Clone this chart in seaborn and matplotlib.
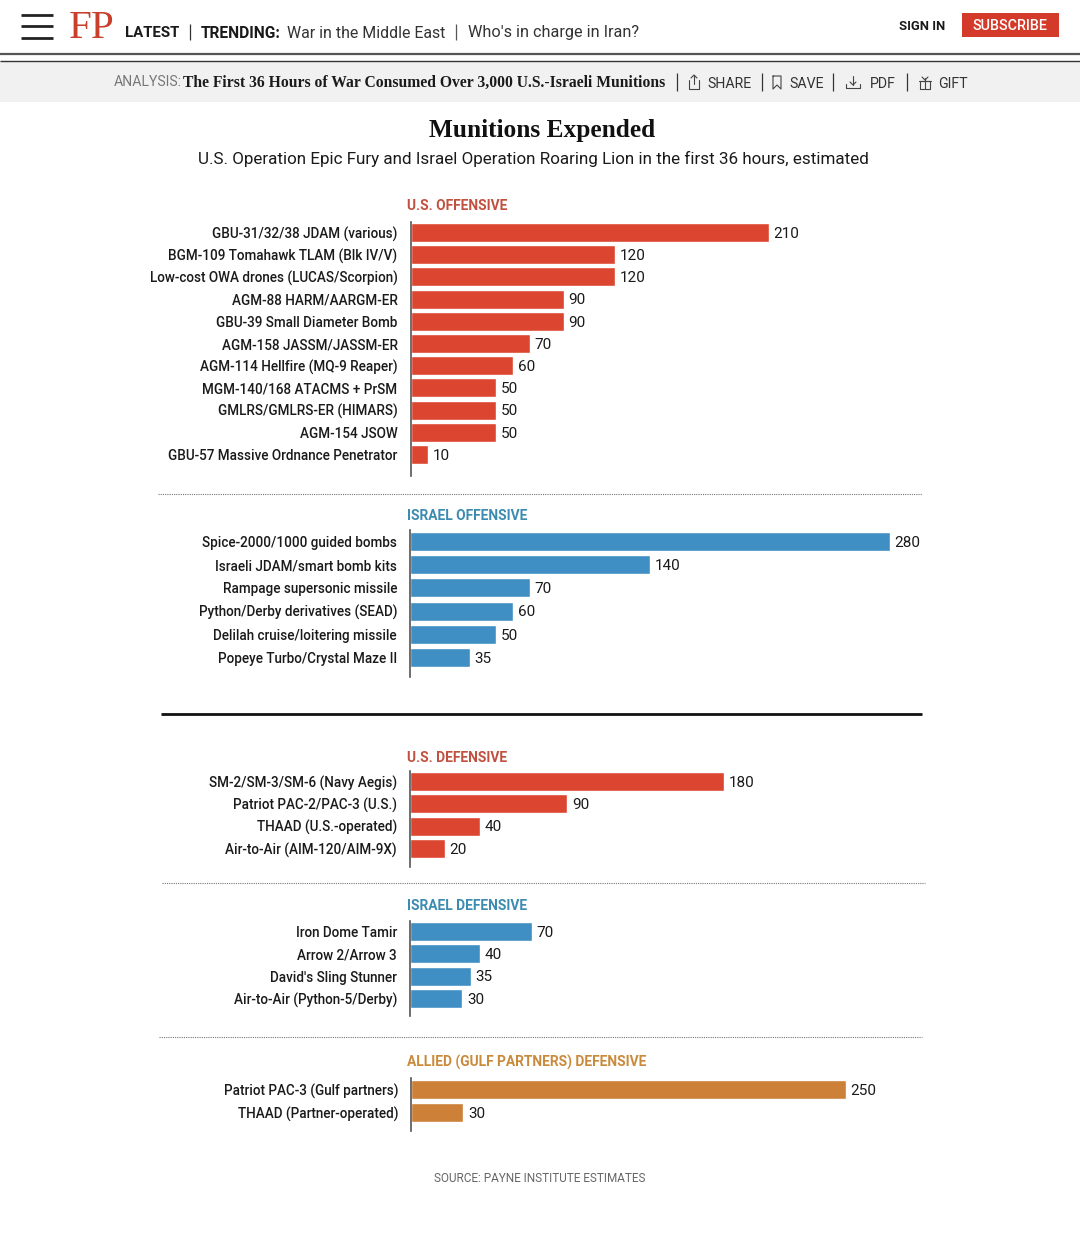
import matplotlib
matplotlib.use("Agg")
import matplotlib.pyplot as plt
from matplotlib.patches import Rectangle
import pandas as pd
import seaborn as sns

W, H = 1080, 1257
RED = "#dc4630"
BLUE = "#408fc4"
ORANGE = "#cc8038"
FONT = "Roboto"

us_off_names = ["GBU-31/32/38 JDAM (various)", "BGM-109 Tomahawk TLAM (Blk IV/V)",
                "Low-cost OWA drones (LUCAS/Scorpion)", "AGM-88 HARM/AARGM-ER",
                "GBU-39 Small Diameter Bomb", "AGM-158 JASSM/JASSM-ER",
                "AGM-114 Hellfire (MQ-9 Reaper)", "MGM-140/168 ATACMS + PrSM",
                "GMLRS/GMLRS-ER (HIMARS)", "AGM-154 JSOW", "GBU-57 Massive Ordnance Penetrator"]
us_off_vals = [210, 120, 120, 90, 90, 70, 60, 50, 50, 50, 10]

il_off_names = ["Spice-2000/1000 guided bombs", "Israeli JDAM/smart bomb kits",
                "Rampage supersonic missile", "Python/Derby derivatives (SEAD)",
                "Delilah cruise/loitering missile", "Popeye Turbo/Crystal Maze II"]
il_off_vals = [280, 140, 70, 60, 50, 35]

us_def_names = ["SM-2/SM-3/SM-6 (Navy Aegis)", "Patriot PAC-2/PAC-3 (U.S.)",
                "THAAD (U.S.-operated)", "Air-to-Air (AIM-120/AIM-9X)"]
us_def_vals = [180, 90, 40, 20]

il_def_names = ["Iron Dome Tamir", "Arrow 2/Arrow 3", "David's Sling Stunner",
                "Air-to-Air (Python-5/Derby)"]
il_def_vals = [70, 40, 35, 30]

gulf_names = ["Patriot PAC-3 (Gulf partners)", "THAAD (Partner-operated)"]
gulf_vals = [250, 30]

sns.set_theme(style="white")
plt.rcParams["font.family"] = [FONT, "DejaVu Sans"]
fig = plt.figure(figsize=(W / 100, H / 100), dpi=100, facecolor="white")

# overlay in pixel coords for the page furniture
page = fig.add_axes([0, 0, 1, 1], zorder=0)
page.set_xlim(0, W)
page.set_ylim(H, 0)
page.axis("off")


def txt(x, y, s, px, **kw):
    kw.setdefault("va", "center")
    kw.setdefault("color", "#1a1a1a")
    page.text(x, y, s, fontsize=px * 0.72, **kw)


def hline(y, x0, x1, **kw):
    page.plot([x0, x1], [y, y], solid_capstyle="butt", **kw)


def vline(x, y0=73, y1=91, color="#333333"):
    page.plot([x, x], [y0, y1], color=color, lw=0.9, solid_capstyle="butt")


def icon(xs, ys):
    page.plot(xs, ys, color="#444444", lw=0.8)


def panel(title, title_color, names, vals, color, x0, scale, first, pitch, top, bottom, title_y):
    # one block of bars, placed by pixel but drawn on a shared 0-300 scale
    ax = fig.add_axes([x0 / W, 1 - bottom / H, 300 * scale / W, (bottom - top) / H], zorder=2)
    ax.patch.set_alpha(0)
    df = pd.DataFrame({"name": names, "val": vals})
    sns.barplot(data=df, x="val", y="name", color=color, saturation=1,
                width=19.0 / pitch, ax=ax, orient="h")
    ax.set_xlim(0, 300)
    ax.set_ylim((bottom - first) / pitch, (top - first) / pitch)
    ax.set_xlabel("")
    ax.set_ylabel("")
    ax.set_xticks([])
    sns.despine(ax=ax, top=True, right=True, bottom=True)
    ax.spines["left"].set_color("#555555")
    ax.spines["left"].set_linewidth(1.2)
    ax.tick_params(axis="y", length=0, pad=9.3, labelcolor="#1a1a1a")
    for lab in ax.get_yticklabels():
        lab.set_fontsize(13.5 * 0.72)
        lab.set_fontweight("medium")
        # bars moved up a touch, labels stay where they were
        lab.set_y(lab.get_position()[1])
    for c in ax.containers:
        labels = ax.bar_label(c, padding=3.4, fontsize=15.2 * 0.72, color="#1a1a1a")
        for t in labels:
            t.xyann = (t.xyann[0], t.xyann[1] - 1)
    txt(407, title_y, title, 13.8, color=title_color, fontweight="bold", ha="left")


# header
hline(37.5, 21, 53, color="#222222", lw=2)
hline(26, 21, 53, color="#222222", lw=2)
hline(15, 21, 53, color="#222222", lw=2)
txt(69, 29, "FP", 41, color="#c8402c", family="Liberation Serif", ha="left")
txt(125, 33, "LATEST", 15, fontweight="bold", ha="left")
vline(190, 24, 40)
txt(201, 33, "TRENDING:", 15.5, fontweight="bold", ha="left")
txt(287, 33, "War in the Middle East", 15.9, ha="left", color="#333333")
vline(456, 24, 40, "#555555")
txt(468, 33, "Who's in charge in Iran?", 16.2, ha="left", color="#333333")
txt(899, 27, "SIGN IN", 13, fontweight="bold", ha="left")
page.add_patch(Rectangle((962, 13), 97, 24, color="#d33a2a", lw=0))
txt(1010, 25.5, "SUBSCRIBE", 14.4, color="white", fontweight="medium", ha="center")
hline(54, 0, W, color="#555555", lw=1.6)
hline(60.5, 0, W, color="#333333", lw=1)

page.add_patch(Rectangle((0, 61), W, 41, color="#f1f1f1", lw=0))
txt(114, 82.5, "ANALYSIS:", 14, color="#777777", ha="left")
txt(183, 82.5, "The First 36 Hours of War Consumed Over 3,000 U.S.-Israeli Munitions", 15.65,
    family="Liberation Serif", fontweight="bold", ha="left")
vline(677)
icon([689, 689, 699, 699], [80, 89, 89, 80])
icon([694, 694], [84, 75])
icon([691, 694, 697], [78, 75, 78])
txt(707, 83.5, "SHARE", 14.1, ha="left", color="#333333")
vline(762)
icon([773, 773, 777, 781, 781, 773], [76, 89, 85, 89, 76, 76])
txt(789, 84, "SAVE", 14.1, ha="left", color="#333333")
vline(833)
icon([846, 846, 860, 860], [84, 88, 88, 84])
icon([853, 853], [76, 85])
icon([850, 853, 856], [82, 85, 82])
txt(870, 84.5, "PDF", 14.1, ha="left", color="#333333")
vline(907)
icon([920, 920, 930, 930, 920], [81, 89, 89, 81, 81])
icon([919, 931], [81, 81])
icon([925, 925], [78, 89])
icon([922, 925, 928], [77, 80, 77])
txt(938, 83.5, "GIFT", 14.1, ha="left", color="#333333")

# titles
txt(542, 130.5, "Munitions Expended", 25.4, family="Liberation Serif", fontweight="bold", ha="center", color="#111111")
txt(533, 159, "U.S. Operation Epic Fury and Israel Operation Roaring Lion in the first 36 hours, estimated",
    17, ha="center")

panel("U.S. OFFENSIVE", "#c2503f", us_off_names, us_off_vals, RED, 410.5, 1.705, 232.5, 22.2, 222, 476, 205.5)
panel("ISRAEL OFFENSIVE", "#3c8bb0", il_off_names, il_off_vals, BLUE, 410, 1.714, 541.5, 23.2, 530, 677, 516.5)
panel("U.S. DEFENSIVE", "#c2503f", us_def_names, us_def_vals, RED, 410, 1.745, 781.5, 22.3, 771, 867, 757.5)
panel("ISRAEL DEFENSIVE", "#3c8bb0", il_def_names, il_def_vals, BLUE, 410, 1.745, 931.5, 22.3, 921, 1016, 906.5)
panel("ALLIED (GULF PARTNERS) DEFENSIVE", "#c98a3c", gulf_names, gulf_vals, ORANGE, 411, 1.74, 1089.5, 23, 1078, 1131, 1062.5)

# dividers
hline(494, 158, 922, color="#777777", lw=0.8, ls=(0, (1, 1)))
hline(714, 161, 922, color="#111111", lw=2)
hline(883, 162, 925, color="#777777", lw=0.8, ls=(0, (1, 1)))
hline(1037, 159, 922, color="#777777", lw=0.8, ls=(0, (1, 1)))

txt(540, 1178, "SOURCE: PAYNE INSTITUTE ESTIMATES", 11.8, color="#666666", ha="center")

fig.savefig("out.png", dpi=100, facecolor="white")
